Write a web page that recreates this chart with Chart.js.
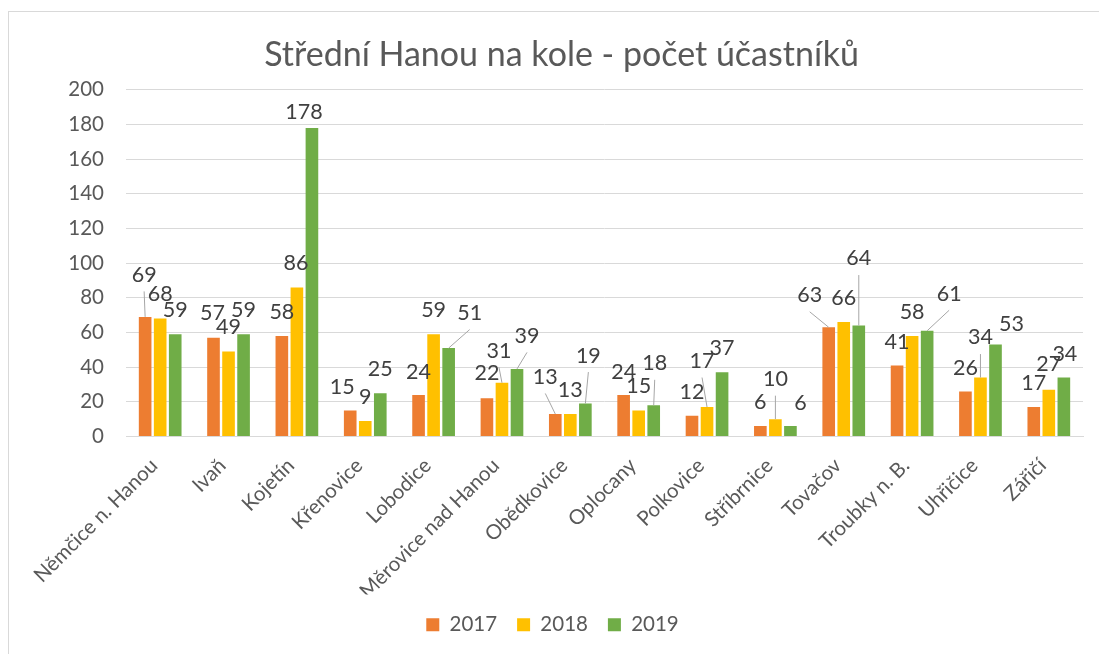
<!DOCTYPE html>
<html>
<head>
<meta charset="utf-8">
<script src="https://cdn.jsdelivr.net/npm/chart.js@4"></script>
<style>
  html, body { margin: 0; padding: 0; background: #fff; overflow: hidden; }
  #wrap { position: relative; width: 1099px; height: 654px; }
  #frame { position: absolute; left: 8px; top: 11px; width: 1200px; height: 800px; border: 1px solid #d9d9d9; box-sizing: border-box; }
  canvas { position: absolute; left: 0; top: 0; }
</style>
</head>
<body>
<div id="wrap">
  <div id="frame"></div>
  <canvas id="chart" width="1099" height="654"></canvas>
</div>
<script>
const categories = ["Němčice n. Hanou", "Ivaň", "Kojetín", "Křenovice", "Lobodice", "Měrovice nad Hanou", "Obědkovice", "Oplocany", "Polkovice", "Stříbrnice", "Tovačov", "Troubky n. B.", "Uhřičice", "Zářičí"];
const years = ["2017", "2018", "2019"];
const values2017 = [69, 57, 58, 15, 24, 22, 13, 24, 12, 6, 63, 41, 26, 17];
const values2018 = [68, 49, 86, 9, 59, 31, 13, 15, 17, 10, 66, 58, 34, 27];
const values2019 = [59, 59, 178, 25, 51, 39, 19, 18, 37, 6, 64, 61, 53, 34];
const yTicks = [0, 20, 40, 60, 80, 100, 120, 140, 160, 180, 200];

// label placement relative to the bar top: [dx, dy, leader line]
const labelPos2017 = [[-1,-43,1],[-1,-26,0],[0,-25,0],[-8,-24,0],[0,-24,0],[0,-26,0],[-10,-38,1],[0,-24,0],[0,-25,0],[0,-25,0],[-19,-33,1],[0,-24,0],[0,-24,0],[0,-25,0]];
const labelPos2018 = [[0,-26,0],[0,-25,0],[-1,-25,0],[0,-25,0],[0,-25,0],[-3,-33,1],[0,-25,0],[0,-25,0],[-5,-47,1],[0,-41,1],[0,-25,0],[0,-25,0],[0,-41,1],[0,-27,0]];
const labelPos2019 = [[0,-25,0],[0,-25,0],[-8,-17,0],[0,-25,0],[21,-36,1],[10,-34,1],[3,-49,1],[1,-43,1],[0,-25,0],[10,-24,0],[0,-68,1],[22,-38,1],[16,-22,0],[1,-24,0]];
const labelPos = [labelPos2017, labelPos2018, labelPos2019];

const colors = ["#ED7D31", "#FFC000", "#70AD47"];
const FONT = "Lato, 'Open Sans', sans-serif";

// Excel-like data labels with leader lines
const dataLabels = {
  id: "dataLabels",
  afterDatasetsDraw(chart) {
    const ctx = chart.ctx;
    ctx.save();
    ctx.font = "21.5px " + FONT;
    ctx.textAlign = "center";
    ctx.textBaseline = "middle";
    chart.data.datasets.forEach((ds, di) => {
      const meta = chart.getDatasetMeta(di);
      meta.data.forEach((bar, i) => {
        const p = labelPos[di][i];
        const x = bar.x + p[0];
        const y = bar.y + p[1];
        if (p[2]) {
          ctx.strokeStyle = "#A6A6A6";
          ctx.lineWidth = 1;
          ctx.beginPath();
          ctx.moveTo(x, y + 17.5);
          ctx.lineTo(bar.x, bar.y);
          ctx.stroke();
        }
        ctx.fillStyle = "#404040";
        ctx.fillText(String(ds.data[i]), x, y + 1);
      });
    });
    ctx.restore();
  }
};

// nudge title and legend sideways, as Excel centres them a bit to the right
const nudgeBoxes = {
  id: "nudgeBoxes",
  afterLayout(chart) {
    if (chart.titleBlock) { chart.titleBlock.left += 20; chart.titleBlock.right += 20; }
    if (chart.legend) { chart.legend.left += 11; chart.legend.right += 11; }
  }
};

new Chart(document.getElementById("chart"), {
  type: "bar",
  plugins: [dataLabels, nudgeBoxes],
  data: {
    labels: categories,
    datasets: [
      { label: years[0], data: values2017, backgroundColor: colors[0] },
      { label: years[1], data: values2018, backgroundColor: colors[1] },
      { label: years[2], data: values2019, backgroundColor: colors[2] }
    ]
  },
  options: {
    responsive: false,
    animation: false,
    devicePixelRatio: 1,
    categoryPercentage: 0.66,
    barPercentage: 0.84,
    layout: { padding: { left: 0, right: 16, top: 0, bottom: 9 } },
    scales: {
      x: {
        grid: { display: false, drawTicks: false },
        border: { display: true, color: "#D9D9D9", width: 1 },
        ticks: {
          color: "#595959",
          font: { family: FONT, size: 20.5 },
          minRotation: 45,
          maxRotation: 45,
          autoSkip: false,
          padding: 17,
          labelOffset: -6
        },
        afterFit(scale) { scale.height = 158; }
      },
      y: {
        min: 0,
        max: 200,
        afterBuildTicks(scale) { scale.ticks = yTicks.map(v => ({ value: v })); },
        grid: { color: "#D9D9D9", lineWidth: 1, drawTicks: false },
        border: { display: false },
        ticks: {
          color: "#595959",
          font: { family: FONT, size: 20.5 },
          padding: 22
        },
        afterFit(scale) { scale.width = 126; }
      }
    },
    plugins: {
      title: {
        display: true,
        text: "Střední Hanou na kole - počet účastníků",
        color: "#595959",
        font: { family: FONT, size: 34, weight: "normal", lineHeight: 1.2 },
        padding: { top: 35, bottom: 14 }
      },
      legend: {
        position: "bottom",
        labels: {
          color: "#595959",
          font: { family: FONT, size: 20.5 },
          boxWidth: 13,
          boxHeight: 13,
          padding: 20
        }
      },
      tooltip: { enabled: false }
    }
  }
});
</script>
</body>
</html>
